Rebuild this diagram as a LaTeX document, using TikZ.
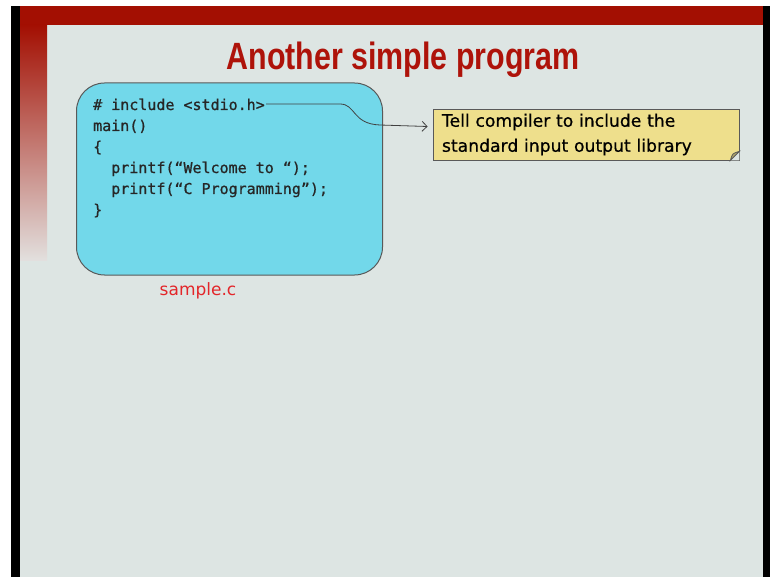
\documentclass[tikz,border=0pt]{standalone}
\usepackage{fontspec}
\setmainfont{DejaVu Sans}
\newfontfamily\titlefont[FakeStretch=0.8]{Liberation Sans}
\newfontfamily\codefont[FakeBold=0.8]{DejaVu Sans Mono}
\newfontfamily\notefont[FakeBold=0.6]{DejaVu Sans}
\usetikzlibrary{arrows.meta}

\definecolor{slidebg}{HTML}{DDE5E3}
\definecolor{bandred}{HTML}{A30F02}
\definecolor{titlered}{HTML}{AE130A}
\definecolor{codecyan}{HTML}{72D8EA}
\definecolor{noteyellow}{HTML}{EEDF8C}
\definecolor{samplered}{HTML}{E3262A}

\tikzset{
    codebox/.style={draw=black!65, line width=1pt, fill=codecyan, rounded corners=28pt,
        minimum width=306pt, minimum height=192pt},
    notebox/.style={draw=gray!70!black, line width=0.8pt, fill=noteyellow,
        minimum width=306pt, minimum height=51pt, text width=288pt, inner xsep=9pt,
        align=left, font=\notefont\fontsize{17.2}{25}\selectfont},
}

\begin{document}
\begin{tikzpicture}[x=1pt, y=-1pt]
    \useasboundingbox (0,0) rectangle (770,577);
    % slide frame
    \fill[white] (0,0) rectangle (770,577);
    \fill[black] (11,6) rectangle (20,577);
    \fill[black] (763,6) rectangle (770,577);
    \fill[slidebg] (20,6) rectangle (763,577);
    \fill[bandred] (20,6) rectangle (763,25);
    \shade[top color=bandred, middle color={rgb,255:red,185;green,120;blue,115}, bottom color=slidebg!85!pink] (20,25) rectangle (47,260);

    \node[anchor=base, text=titlered, font=\titlefont\bfseries\fontsize{38}{40}\selectfont] (title) at (403,70) {Another simple program};

    \node[codebox] (code) at (229.5,179) {};
    % base of a multi-line node is the last line
    \node[anchor=base west, align=left, inner sep=0, text=black!85, font=\codefont\fontsize{15}{21}\selectfont] (prog) at (93,215)
        {\# include <stdio.h>\\ main()\\ \{\\ \ \ printf(“Welcome to “);\\ \ \ printf(“C Programming”);\\ \}};
    \node[anchor=base, text=samplered, font=\fontsize{17}{20}\selectfont] (fname) at (198,295) {sample.c};

    \node[notebox] (note) at (586,134.5) {Tell compiler to include the\\ standard input output library};
    \fill[slidebg] (note.south east) -- ([xshift=-9pt]note.south east) -- ([yshift=9pt]note.south east) -- cycle;
    \draw[fill=noteyellow!75!black, draw=gray!70!black, line width=0.8pt] ([xshift=-9pt]note.south east) .. controls ([xshift=-7pt,yshift=7pt]note.south east) .. ([yshift=9pt]note.south east) -- cycle;

    \coordinate (incl) at (266,104);
    \draw[-{Straight Barb[length=5pt]}, line width=0.8pt, black!75] (incl) -- (340,104) .. controls (356,104) and (352,124) .. (380,125) -- ([xshift=-5pt,yshift=8pt]note.west);
\end{tikzpicture}
\end{document}
